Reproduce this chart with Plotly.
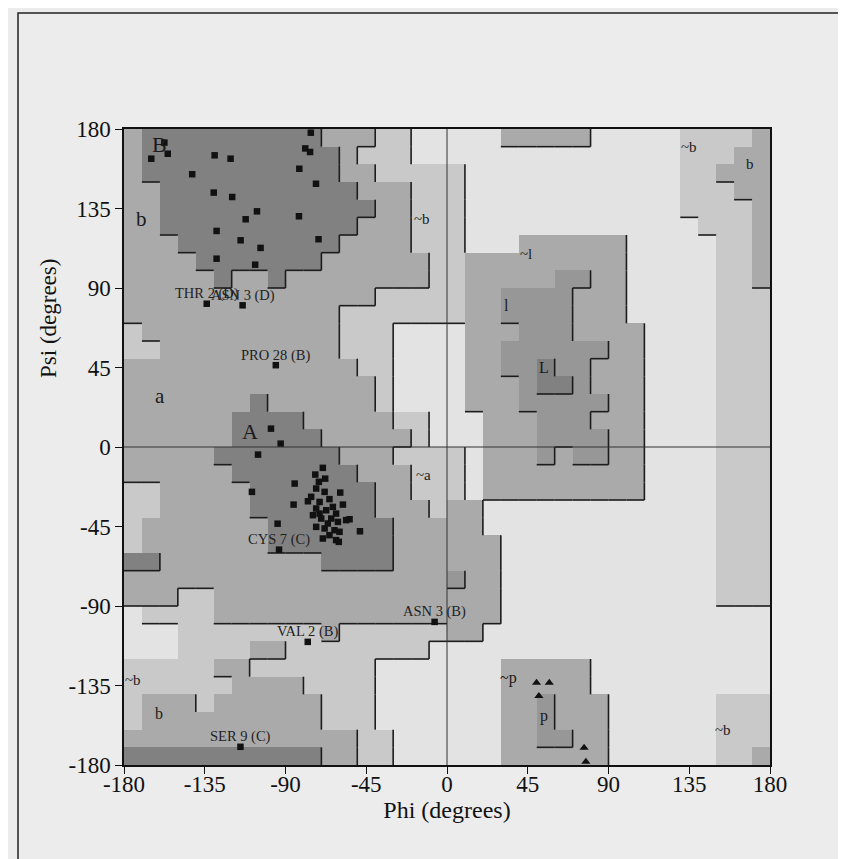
import plotly.graph_objects as go

# ---------------- data ----------------
# Region map on a 10-degree grid: rows run from psi 180 (top) to -180 (bottom),
# columns from phi -180 (left) to 180 (right).
# 0 = disallowed, 1 = generously allowed (~a, ~b), 2 = allowed (a, b, ~l, ~p),
# 3 = allowed (l, p), 4 = core (A, B, L)
REGION_ROWS = [
    "244444444442221100" + "000222220000011112",
    "244444444444211100" + "000000000000011122",
    "244444444444221111" + "100000000000011222",
    "224444444444422211" + "100000000000011122",
    "224444444444442211" + "100000000000011112",
    "224444444444422211" + "100000000000001112",
    "222444444444222211" + "100022222200000112",
    "222244444442222221" + "122222222200000112",
    "222224224222222221" + "122222332200000112",
    "222222222222221111" + "122333322200000111",
    "222222222222111111" + "122333322200000111",
    "122222222222111000" + "022233322220000111",
    "112222222222111000" + "022333333220000111",
    "222222222222211000" + "022334332220000111",
    "222222222222221000" + "022234432220000111",
    "222222242222221000" + "022233333220000111",
    "222222444422222110" + "002223332220000111",
    "222222444442222210" + "002223333220000111",
    "222224444444222111" + "102223233220000111",
    "222222444444422211" + "102222222220000111",
    "112222244444442211" + "102222222220000111",
    "112222244444442221" + "220000000000000111",
    "122222224444444222" + "220000000000000111",
    "122222224444444222" + "222000000000000111",
    "442222222224444222" + "222000000000000111",
    "222222222222222222" + "322000000000000111",
    "222112222222222222" + "222000000000000111",
    "011112222222222222" + "222000000000000000",
    "000111111112111111" + "220000000000000000",
    "000111122111111110" + "000000000000000000",
    "111112211111110000" + "000222220000000000",
    "111111222211110000" + "000222220000000000",
    "122212222221110000" + "000223222000000111",
    "122222222221110000" + "000223222000000111",
    "222222222222211000" + "000223322000000111",
    "444444444442211000" + "000222222000000112",
]
GRID_STEP = 10
AXIS_MIN, AXIS_MAX = -180, 180
TICK_VALUES = [-180, -135, -90, -45, 0, 45, 90, 135, 180]
TICK_LABELS = ["-180", "-135", "-90", "-45", "0", "45", "90", "135", "180"]

# non-glycine residues (squares)
RES_PHI = [-164.8, -157.5, -155.6, -129.5, -120.6, -142.0, -75.9, -76.3, -79.0,
           -82.3, -73.0, -130.0, -119.7, -105.9, -112.2, -82.5, -128.4, -115.0,
           -103.9, -71.6, -128.4, -106.9, -98.1, -92.7, -105.3, -108.7, -84.9,
           -85.5, -94.4, -48.5,
           -69.2, -73.4, -67.9, -71.4, -59.5, -72.9, -68.2, -75.7, -65.5, -77.5,
           -71.0, -58.0, -72.9, -67.3, -63.6, -54.3, -70.1, -64.5, -60.8, -56.2,
           -72.9, -68.2, -62.7, -59.9, -65.5, -69.2, -61.8, -60.3, -66.4, -74.7,
           -61.8, -71.0]
RES_PSI = [163.2, 172.3, 166.0, 165.1, 163.2, 154.4, 177.9, 167.0, 169.0,
           157.5, 149.0, 144.0, 141.5, 133.4, 128.9, 130.6, 122.3, 117.0,
           112.7, 117.6, 106.6, 103.2, 10.4, 1.9, -4.3, -25.4, -20.7,
           -32.6, -43.4, -47.7,
           -11.8, -15.6, -17.9, -19.7, -25.8, -23.5, -25.4, -28.2, -29.5, -30.7,
           -31.1, -32.6, -34.8, -35.8, -33.9, -40.9, -40.5, -40.5, -42.4, -41.4,
           -45.2, -46.1, -47.1, -48.0, -49.9, -51.8, -52.7, -53.7, -43.3, -38.6,
           -37.7, -37.7]

# labelled residues (outside the most favoured regions)
LAB_TEXT = ["THR 2 (D)", "ASN 3 (D)", "PRO 28 (B)", "CYS 7 (C)",
            "VAL 2 (B)", "ASN 3 (B)", "SER 9 (C)"]
LAB_PHI = [-133.9, -113.9, -95.4, -93.6, -77.6, -6.9, -115.1]
LAB_PSI = [81.1, 80.2, 46.3, -58.1, -110.3, -99.0, -169.7]

# glycines (triangles)
GLY_PHI = [49.9, 57.0, 51.2, 76.4, 77.4]
GLY_PSI = [-133.4, -133.4, -141.0, -170.3, -178.2]

# region letters
REG_TEXT = ["B", "b", "~b", "a", "A", "~a", "~b", "b",
            "~l", "l", "L", "~b", "b", "~p", "p", "~b"]
REG_PHI = [-160, -170, -14, -160, -110, -13, -175, -160.5,
           44, 33, 54, 135, 169, 34, 54, 154]
REG_PSI = [171, 129, 129, 29, 8.5, -16, -132, -151,
           109, 80, 45, 170, 160, -131, -152, -160]
REG_SIZE = [22, 21, 15, 21, 22, 15, 15, 16, 15, 16, 16, 15, 15, 16, 16, 15]

LEVEL_COLORS = ["#e3e3e3", "#c9c9c9", "#aaaaaa", "#979797", "#818181"]

# ---------------- figure ----------------
n = len(REGION_ROWS)
z = [[int(ch) for ch in row] for row in REGION_ROWS]
phi_centers = [AXIS_MIN + GRID_STEP / 2 + GRID_STEP * i for i in range(n)]
psi_centers = [AXIS_MAX - GRID_STEP / 2 - GRID_STEP * j for j in range(n)]

nlev = len(LEVEL_COLORS)
colorscale = []
for i, col in enumerate(LEVEL_COLORS):
    colorscale.append([i / nlev, col])
    colorscale.append([(i + 1) / nlev, col])

fig = go.Figure()
fig.add_trace(go.Heatmap(x=phi_centers, y=psi_centers, z=z, zmin=-0.5,
                         zmax=nlev - 0.5, colorscale=colorscale,
                         showscale=False, hoverinfo="skip"))

# boundary lines on the right / lower edges of higher regions
bx, by = [], []
for r in range(n):
    for c in range(n - 1):
        if z[r][c] > z[r][c + 1]:
            xe = AXIS_MIN + GRID_STEP * (c + 1)
            bx += [xe, xe, None]
            by += [AXIS_MAX - GRID_STEP * r, AXIS_MAX - GRID_STEP * (r + 1), None]
for r in range(n - 1):
    for c in range(n):
        if z[r][c] > z[r + 1][c]:
            ye = AXIS_MAX - GRID_STEP * (r + 1)
            bx += [AXIS_MIN + GRID_STEP * c, AXIS_MIN + GRID_STEP * (c + 1), None]
            by += [ye, ye, None]
fig.add_trace(go.Scatter(x=bx, y=by, mode="lines",
                         line=dict(color="#1c1c1c", width=1.6),
                         hoverinfo="skip"))

fig.add_trace(go.Scatter(x=RES_PHI + LAB_PHI, y=RES_PSI + LAB_PSI, mode="markers",
                         marker=dict(symbol="square", size=6.5, color="#111111")))
fig.add_trace(go.Scatter(x=GLY_PHI, y=GLY_PSI, mode="markers",
                         marker=dict(symbol="triangle-up", size=8, color="#111111")))

for t, px, py, s in zip(REG_TEXT, REG_PHI, REG_PSI, REG_SIZE):
    fig.add_annotation(x=px, y=py, text=t, showarrow=False,
                       font=dict(size=s, color="#1a1a1a", family="Liberation Serif"))
for t, px, py in zip(LAB_TEXT, LAB_PHI, LAB_PSI):
    fig.add_annotation(x=px, y=py, text=t, showarrow=False, yshift=10,
                       font=dict(size=14.5, color="#222222", family="Liberation Serif"))

# zero reference lines
fig.add_shape(type="line", x0=0, x1=0, y0=AXIS_MIN, y1=AXIS_MAX, xref="x", yref="y",
              line=dict(color="#333333", width=1), layer="above")
fig.add_shape(type="line", x0=AXIS_MIN, x1=AXIS_MAX, y0=0, y1=0, xref="x", yref="y",
              line=dict(color="#333333", width=1), layer="above")

# layout geometry (page body adds ~7 px offset)
W, H = 846, 859
ML, MT = 116, 121
PW, PH = 646, 636
MR, MB = W - ML - PW, H - MT - PH

# page frame of the scanned figure
fig.add_shape(type="rect", xref="paper", yref="paper",
              x0=(10 - ML) / PW, x1=(W + 20 - ML) / PW,
              y0=(MT + PH - (H + 20)) / PH, y1=(MT + PH - 5) / PH,
              line=dict(color="#222222", width=1.5), fillcolor="rgba(0,0,0,0)")

fig.add_annotation(xref="paper", yref="paper", x=(40 - ML) / PW, y=(MT + PH - 311) / PH,
                   xanchor="center", yanchor="middle",
                   text="Psi (degrees)", textangle=-90, showarrow=False,
                   font=dict(size=23, color="#111111", family="Liberation Serif"))

axis_common = dict(range=[AXIS_MIN, AXIS_MAX], tickvals=TICK_VALUES, ticktext=TICK_LABELS,
                   ticks="outside", ticklen=7, tickwidth=1.3, tickcolor="#111111",
                   showline=True, linecolor="#111111", linewidth=1.5, mirror=True,
                   showgrid=False, zeroline=False,
                   tickfont=dict(size=23, color="#111111", family="Liberation Serif"))
fig.update_xaxes(**axis_common, ticklabelstandoff=-9,
                 title=dict(text="Phi (degrees)", standoff=4,
                            font=dict(size=24, color="#111111", family="Liberation Serif")))
fig.update_yaxes(**axis_common)

fig.update_layout(width=W, height=H, margin=dict(l=ML, r=MR, t=MT, b=MB),
                  paper_bgcolor="#ececec", plot_bgcolor="#e3e3e3",
                  showlegend=False,
                  font=dict(family="Liberation Serif", color="#111111"))

fig.write_html("out.html")
